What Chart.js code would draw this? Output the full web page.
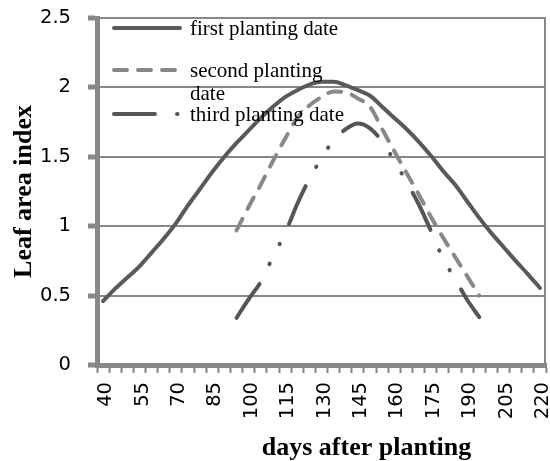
<!DOCTYPE html>
<html>
<head>
<meta charset="utf-8">
<script src="https://cdn.jsdelivr.net/npm/chart.js@4.4.1/dist/chart.umd.min.js"></script>
<style>
  html, body { margin: 0; padding: 0; background: #fff; }
  #chart { display: block; }
</style>
</head>
<body>
<canvas id="chart" width="550" height="461"></canvas>
<script>
// days after planting (category axis, every 5 days)
const days = [40, 45, 50, 55, 60, 65, 70, 75, 80, 85, 90, 95, 100, 105, 110, 115, 120, 125, 130,
              135, 140, 145, 150, 155, 160, 165, 170, 175, 180, 185, 190, 195, 200, 205, 210, 215, 220];

// leaf area index
const firstDate = [0.46, 0.55, 0.63, 0.71, 0.81, 0.91, 1.02, 1.15, 1.27, 1.39, 1.50, 1.60, 1.69,
                   1.78, 1.86, 1.93, 1.98, 2.02, 2.04, 2.04, 2.015, 1.98, 1.94, 1.86, 1.78, 1.70,
                   1.61, 1.51, 1.40, 1.30, 1.18, 1.06, 0.95, 0.85, 0.75, 0.655, 0.555];

const secondDate = [null, null, null, null, null, null, null, null, null, null, null,
                    0.97, 1.14, 1.30, 1.47, 1.63, 1.78, 1.87, 1.93, 1.97, 1.965, 1.92, 1.86,
                    1.70, 1.54, 1.385, 1.23, 1.07, 0.92, 0.78, 0.64, 0.50,
                    null, null, null, null, null];

const thirdDate = [null, null, null, null, null, null, null, null, null, null, null,
                   0.34, 0.475, 0.60, 0.78, 0.95, 1.16, 1.34, 1.49, 1.62, 1.70, 1.74, 1.705,
                   1.61, 1.47, 1.32, 1.16, 0.97, 0.77, 0.62, 0.47, 0.345,
                   null, null, null, null, null];

const seriesNames = ['first planting date', 'second planting date', 'third planting date'];
const yTicks = [0, 0.5, 1, 1.5, 2, 2.5];

const axisGray = '#878787';
const serif = "'Liberation Serif', 'Times New Roman', serif";
const sans = "'DejaVu Sans', sans-serif";

// thin frame line on the right side of the plot
const rightFrame = {
  id: 'rightFrame',
  afterDraw(chart) {
    const {ctx, chartArea: a} = chart;
    ctx.save();
    ctx.strokeStyle = axisGray;
    ctx.lineWidth = 2;
    ctx.setLineDash([]);
    ctx.beginPath();
    ctx.moveTo(a.right - 1, a.top - 1);
    ctx.lineTo(a.right - 1, a.bottom);
    ctx.stroke();
    ctx.restore();
  }
};

// legend drawn inside the plot, top left, like the Excel original
const insideLegend = {
  id: 'insideLegend',
  afterDatasetsDraw(chart) {
    const ctx = chart.ctx;
    const left = chart.chartArea.left;
    const rows = [28, 70, 114];
    ctx.save();
    chart.data.datasets.forEach((ds, i) => {
      const y = rows[i];
      ctx.beginPath();
      ctx.strokeStyle = ds.borderColor;
      ctx.lineWidth = ds.borderWidth;
      ctx.lineCap = 'round';
      ctx.setLineDash(ds.borderDash || []);
      ctx.moveTo(left + 17, y);
      ctx.lineTo(left + 83, y);
      ctx.stroke();

      ctx.setLineDash([]);
      ctx.fillStyle = '#000';
      ctx.font = '21px ' + serif;
      ctx.textAlign = 'left';
      ctx.textBaseline = 'alphabetic';
      // simple word wrap, the legend box is narrow
      const words = ds.label.split(' ');
      const lines = [];
      let cur = '';
      words.forEach(w => {
        const test = cur ? cur + ' ' + w : w;
        if (ctx.measureText(test).width > 164 && cur) { lines.push(cur); cur = w; }
        else cur = test;
      });
      lines.push(cur);
      lines.forEach((t, k) => ctx.fillText(t, left + 93, y + 6.5 + k * 23.5));
    });
    ctx.restore();
  }
};

// x axis title sits right of centre in the original
const xTitle = {
  id: 'xTitle',
  afterDraw(chart) {
    const ctx = chart.ctx;
    ctx.save();
    ctx.fillStyle = '#000';
    ctx.font = 'bold 26px ' + serif;
    ctx.textAlign = 'center';
    ctx.textBaseline = 'alphabetic';
    ctx.fillText('days after planting', 366.5, 454.5);
    ctx.restore();
  }
};

new Chart(document.getElementById('chart'), {
  type: 'line',
  data: {
    labels: days,
    datasets: [
      {
        label: seriesNames[0],
        data: firstDate,
        borderColor: '#595959',
        borderWidth: 4,
        cubicInterpolationMode: 'monotone'
      },
      {
        label: seriesNames[1],
        data: secondDate,
        borderColor: '#888888',
        borderWidth: 4,
        borderDash: [13, 11],
        cubicInterpolationMode: 'monotone'
      },
      {
        label: seriesNames[2],
        data: thirdDate,
        borderColor: '#555555',
        borderWidth: 4,
        borderDash: [41, 22, 0.5, 22, 0.5, 22],
        cubicInterpolationMode: 'monotone'
      }
    ]
  },
  options: {
    responsive: false,
    animation: false,
    devicePixelRatio: 1,
    layout: { padding: { top: 18, right: 4, bottom: 0, left: 0 } },
    elements: {
      point: { radius: 0, hoverRadius: 0 },
      line: { borderCapStyle: 'round', borderJoinStyle: 'round', fill: false }
    },
    plugins: {
      legend: { display: false },
      tooltip: { enabled: false }
    },
    scales: {
      x: {
        type: 'category',
        offset: true,
        grid: {
          drawOnChartArea: false,
          offset: true,
          tickLength: 8,
          tickWidth: 2,
          tickColor: axisGray
        },
        border: { color: axisGray, width: 5 },
        ticks: {
          autoSkip: false,
          minRotation: 90,
          maxRotation: 90,
          padding: 9,
          labelOffset: 3,
          color: '#000',
          font: { family: sans, size: 19.5 },
          callback: (v, i) => (i % 3 === 0 ? String(days[i]) : '')
        },
        afterFit: s => { s.height = 96; s.paddingLeft = 0; s.paddingRight = 0; }
      },
      y: {
        min: 0,
        max: 2.5,
        afterBuildTicks: s => { s.ticks = yTicks.map(v => ({ value: v })); },
        grid: {
          color: axisGray,
          lineWidth: 2,
          tickLength: 9,
          tickWidth: 5,
          tickColor: axisGray
        },
        border: { color: axisGray, width: 5 },
        ticks: {
          padding: 17,
          color: '#000',
          font: { family: sans, size: 19.5 },
          callback: v => String(v)
        },
        title: {
          display: true,
          text: 'Leaf area index',
          color: '#000',
          font: { family: serif, size: 26, weight: 'bold' },
          padding: { top: 8.4, bottom: 0 }
        },
        afterFit: s => { s.width = 97; s.paddingTop = 0; s.paddingBottom = 0; }
      }
    }
  },
  plugins: [rightFrame, insideLegend, xTitle]
});
</script>
</body>
</html>
